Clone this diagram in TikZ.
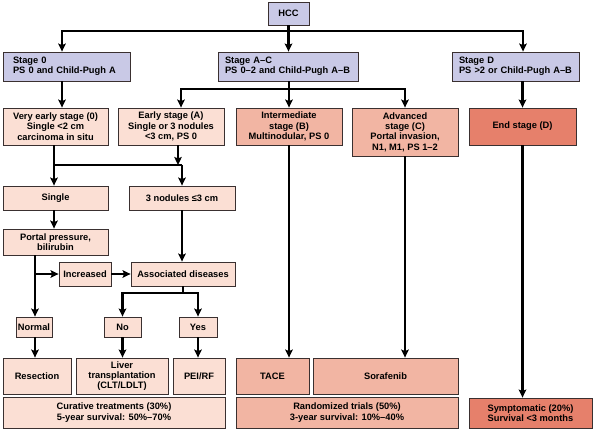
\documentclass[tikz,border=0pt]{standalone}
\usepackage{fontspec}
\setmainfont{Liberation Sans}
\usepackage{tikz}
\usetikzlibrary{positioning,arrows.meta,calc}
\definecolor{lav1}{HTML}{C9C9E6}
\definecolor{pink1}{HTML}{FBDFD4}
\definecolor{salmon1}{HTML}{F2B5A3}
\definecolor{coral1}{HTML}{E6806B}
\definecolor{edge1}{HTML}{3A3030}

\begin{document}
\begin{tikzpicture}[
    x=1pt, y=-1pt,
    box/.style={draw=edge1, line width=0.8pt, align=center,
                font=\bfseries\fontsize{9.3}{10.3}\selectfont,
                inner sep=1pt},
    stagebox/.style={box, fill=lav1, align=left, inner xsep=7pt,
                     minimum height=29pt},
    lightbox/.style={box, fill=pink1},
    midbox/.style={box, fill=salmon1},
    darkbox/.style={box, fill=coral1},
    line/.style={line width=2.2pt, black},
    arr/.style={line, -{Stealth[length=8pt,width=7.5pt,inset=1.5pt]}},
]
\useasboundingbox (0,0) rectangle (593,430);

% stages
\node[box, fill=lav1, minimum width=41pt, minimum height=23pt] (hcc) at (288.5,13.5) {HCC};
\node[stagebox, inner xsep=10pt, text width=107pt] (s0) at (66.5,66.5) {Stage 0\\PS 0 and Child-Pugh A};
\node[stagebox, text width=126pt] (sac) at (288,66.5) {Stage A--C\\PS 0--2 and Child-Pugh A--B};
\node[stagebox, text width=113pt] (sd) at (515.5,66.5) {Stage D\\PS >2 or Child-Pugh A--B};

% staging
\node[lightbox, minimum width=105pt, minimum height=37pt] (vearly) at (55.5,126.5)
    {Very early stage (0)\\Single <2 cm\\carcinoma in situ};
\node[lightbox, minimum width=106pt, minimum height=37pt] (early) at (171,126.5)
    {Early stage (A)\\Single or 3 nodules\\<3 cm, PS 0};
\node[midbox, minimum width=106pt, minimum height=37pt] (inter) at (289,126.5)
    {Intermediate\\stage (B)\\Multinodular, PS 0};
\node[midbox, minimum width=106pt, minimum height=48pt] (adv) at (405,132)
    {Advanced\\stage (C)\\Portal invasion,\\N1, M1, PS 1--2};
\node[darkbox, minimum width=107pt, minimum height=37pt] (endst) at (522.5,126.5)
    {End stage (D)};

% decision
\node[lightbox, minimum width=105pt, minimum height=24pt] (single) at (55.5,198) {Single};
\node[lightbox, minimum width=106pt, minimum height=24pt] (three) at (182,198) {3 nodules ≤3 cm};
\node[lightbox, minimum width=105pt, minimum height=26pt] (portal) at (55.5,242)
    {Portal pressure,\\bilirubin};
\node[lightbox, minimum width=52pt, minimum height=24pt] (incr) at (85,274) {Increased};
\node[lightbox, minimum width=104pt, minimum height=24pt] (assoc) at (183,274) {Associated diseases};
\node[lightbox, minimum width=36pt, minimum height=20pt] (normal) at (34,327) {Normal};
\node[lightbox, minimum width=37pt, minimum height=20pt] (no) at (122.5,327) {No};
\node[lightbox, minimum width=38pt, minimum height=20pt] (yes) at (198,327) {Yes};

% treatment
\node[lightbox, minimum width=68pt, minimum height=36pt] (resec) at (37,376) {Resection};
\node[lightbox, minimum width=92pt, minimum height=36pt] (liver) at (122,376)
    {Liver\\transplantation\\(CLT/LDLT)};
\node[lightbox, minimum width=52pt, minimum height=36pt] (pei) at (199,376) {PEI/RF};
\node[midbox, minimum width=73pt, minimum height=36pt] (tace) at (272.5,376) {TACE};
\node[midbox, minimum width=145pt, minimum height=36pt] (sora) at (385.5,376) {Sorafenib};

% outcome
\node[lightbox, minimum width=222pt, minimum height=31pt] (cur) at (114,412.5)
    {Curative treatments (30\%)\\5-year survival: 50\%--70\%};
\node[midbox, minimum width=222pt, minimum height=31pt] (rand) at (347,412.5)
    {Randomized trials (50\%)\\3-year survival: 10\%--40\%};
\node[darkbox, minimum width=123pt, minimum height=30pt] (symp) at (530.5,413)
    {Symptomatic (20\%)\\Survival <3 months};

% connectors
\coordinate (j1) at (288.5,31);
\draw[line] (hcc.south) -- (j1);
\draw[arr] (j1) -| ([xshift=-4.5pt]s0.north);
\draw[arr] (j1) -| ([xshift=7.5pt]sd.north);
\draw[arr] (j1) -- (sac.north -| j1);

\draw[arr] ([xshift=-4.5pt]s0.south) -- ([xshift=6.5pt]vearly.north);

\coordinate (j2) at (289,89);
\draw[arr] (sac.south -| j2) -- (inter.north);
\draw[arr] (j2) -| ([xshift=10pt]early.north);
\draw[arr] (j2) -| (adv.north);
\draw[arr] (sd.south -| endst) -- (endst.north);

\coordinate (j3) at (54,165);
\draw[line] (vearly.south -| j3) -- (j3) -- (j3 -| three);
\draw[arr] ([xshift=7pt]early.south) -- ([xshift=7pt]early.south |- j3);
\draw[arr] (j3) -- (single.north -| j3);
\draw[arr] (j3 -| three) -- (three.north);

\draw[arr] (single.south -| j3) -- (portal.north -| j3);
\coordinate (j4) at (35,274);
\draw[arr] (portal.south -| j4) -- (normal.north -| j4);
\draw[arr] (j4) -- (incr.west);
\draw[arr] (incr) -- (assoc);
\draw[arr] (three.south) -- (three.south |- assoc.north);

\coordinate (j5) at (183,293);
\draw[line] (assoc) -- (j5);
\draw[arr] (j5) -| (no.north);
\draw[arr] (j5) -| (yes.north);

\draw[arr] (normal.south -| j4) -- (resec.north -| j4);
\draw[arr] (no.south) -- (no.south |- liver.north);
\draw[arr] (yes.south) -- (yes.south |- pei.north);
\draw[arr] (inter.south) -- (inter.south |- tace.north);
\draw[arr] (adv.south) -- (adv.south |- sora.north);
\draw[arr] (endst.south) -- (endst.south |- symp.north);
\end{tikzpicture}
\end{document}
